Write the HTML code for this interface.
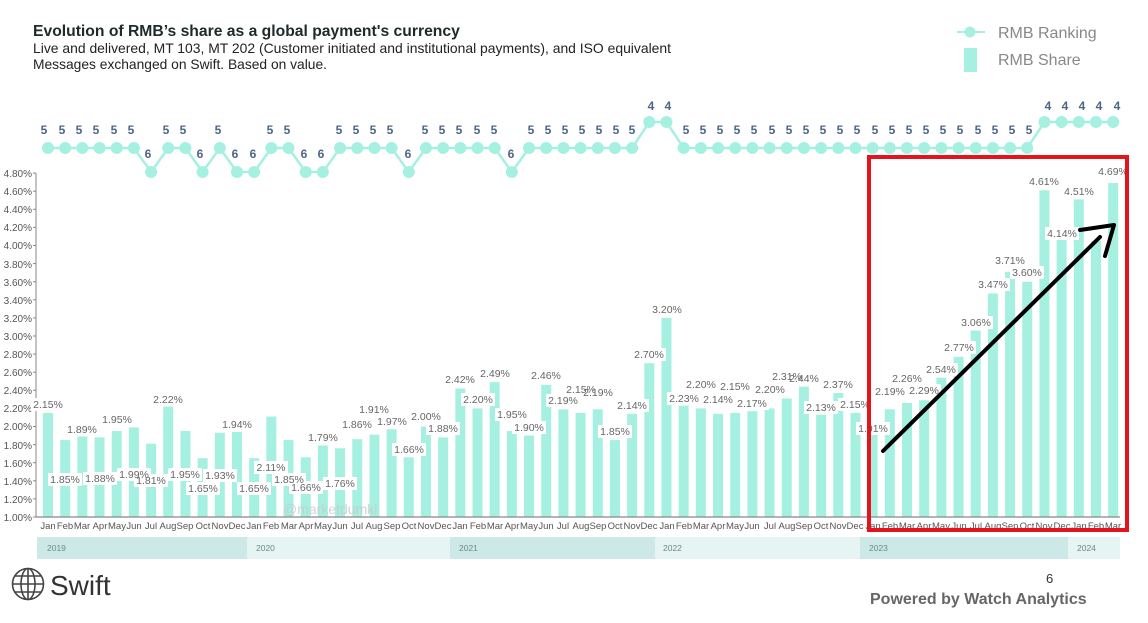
<!DOCTYPE html>
<html><head><meta charset="utf-8"><style>
html,body{margin:0;padding:0;background:#fff;}
svg{display:block;font-family:"Liberation Sans",sans-serif;}
.ml{font-size:9.5px;fill:#555;text-anchor:middle}
.vl{font-size:10.5px;fill:#666;text-anchor:middle}
.rk{font-size:12px;font-weight:bold;fill:#4d6585;text-anchor:middle}
.yl{font-size:10px;fill:#555;text-anchor:end}
</style></head><body>
<svg id="s" width="1148" height="623" viewBox="0 0 1148 623" xmlns="http://www.w3.org/2000/svg">
<text x="33" y="36" font-size="15.7" font-weight="bold" fill="#1d2b2a">Evolution of RMB’s share as a global payment's currency</text>
<text x="33" y="53" font-size="13.6" fill="#222" textLength="638" lengthAdjust="spacingAndGlyphs">Live and delivered, MT 103, MT 202 (Customer initiated and institutional payments), and ISO equivalent</text>
<text x="33" y="69" font-size="13.6" fill="#222" textLength="294" lengthAdjust="spacingAndGlyphs">Messages exchanged on Swift. Based on value.</text>
<line x1="957" y1="32" x2="985" y2="32" stroke="#a6f0e2" stroke-width="2"/><circle cx="970" cy="32" r="5.5" fill="#a6f0e2"/>
<rect x="964" y="48" width="13" height="24" fill="#a6f0e2"/>
<text x="998" y="38" font-size="16" fill="#888">RMB Ranking</text>
<text x="998" y="65" font-size="16" fill="#888">RMB Share</text>
<rect x="37" y="537" width="210" height="22" fill="#cde9e7"/><rect x="247" y="537" width="203" height="22" fill="#e6f4f3"/>
<rect x="450" y="537" width="205" height="22" fill="#cde9e7"/><rect x="655" y="537" width="205" height="22" fill="#e6f4f3"/>
<rect x="860" y="537" width="208" height="22" fill="#cde9e7"/><rect x="1068" y="537" width="52" height="22" fill="#e6f4f3"/>
<g font-size="8.5" fill="#6a8a88"><text x="47" y="551">2019</text><text x="256" y="551">2020</text><text x="459" y="551">2021</text><text x="663" y="551">2022</text><text x="869" y="551">2023</text><text x="1077" y="551">2024</text></g>
<g id="geo"></g>
<text x="283" y="514" font-size="14" fill="#c8c8c8" opacity="0.8">@marketdumki</text>
<g class="yl"><text x="32" y="521">1.00%</text><text x="32" y="503">1.20%</text><text x="32" y="485">1.40%</text><text x="32" y="467">1.60%</text><text x="32" y="449">1.80%</text><text x="32" y="430">2.00%</text><text x="32" y="412">2.20%</text><text x="32" y="394">2.40%</text><text x="32" y="376">2.60%</text><text x="32" y="358">2.80%</text><text x="32" y="340">3.00%</text><text x="32" y="322">3.20%</text><text x="32" y="304">3.40%</text><text x="32" y="286">3.60%</text><text x="32" y="268">3.80%</text><text x="32" y="249">4.00%</text><text x="32" y="231">4.20%</text><text x="32" y="213">4.40%</text><text x="32" y="195">4.60%</text><text x="32" y="177">4.80%</text></g>
<g id="lbl" class="vl"></g>
<g class="vl" id="vt">
<text x="48" y="408">2.15%</text><text x="65" y="483">1.85%</text><text x="82" y="433">1.89%</text><text x="100" y="482">1.88%</text><text x="117" y="423">1.95%</text><text x="134" y="478">1.99%</text><text x="151" y="484">1.81%</text><text x="168" y="403">2.22%</text><text x="185" y="478">1.95%</text><text x="203" y="492">1.65%</text><text x="220" y="479">1.93%</text><text x="237" y="428">1.94%</text>
<text x="254" y="492">1.65%</text><text x="271" y="471">2.11%</text><text x="289" y="483">1.85%</text><text x="306" y="491">1.66%</text><text x="323" y="441">1.79%</text><text x="340" y="487">1.76%</text><text x="357" y="428">1.86%</text><text x="374" y="413">1.91%</text><text x="392" y="425">1.97%</text><text x="409" y="453">1.66%</text><text x="426" y="420">2.00%</text><text x="443" y="432">1.88%</text>
<text x="460" y="383">2.42%</text><text x="478" y="403">2.20%</text><text x="495" y="377">2.49%</text><text x="512" y="418">1.95%</text><text x="529" y="431">1.90%</text><text x="546" y="379">2.46%</text><text x="563" y="404">2.19%</text><text x="581" y="393">2.15%</text><text x="598" y="396">2.19%</text><text x="615" y="435">1.85%</text><text x="632" y="409">2.14%</text><text x="649" y="358">2.70%</text>
<text x="667" y="313">3.20%</text><text x="684" y="402">2.23%</text><text x="701" y="388">2.20%</text><text x="718" y="403">2.14%</text><text x="735" y="390">2.15%</text><text x="752" y="407">2.17%</text><text x="770" y="393">2.20%</text><text x="787" y="380">2.31%</text><text x="804" y="382">2.44%</text><text x="821" y="411">2.13%</text><text x="838" y="388">2.37%</text><text x="855" y="408">2.15%</text>
<text x="873" y="432">1.91%</text><text x="890" y="395">2.19%</text><text x="907" y="382">2.26%</text><text x="924" y="394">2.29%</text><text x="941" y="373">2.54%</text><text x="959" y="351">2.77%</text><text x="976" y="326">3.06%</text><text x="993" y="288">3.47%</text><text x="1010" y="264">3.71%</text><text x="1027" y="276">3.60%</text><text x="1044" y="185">4.61%</text><text x="1062" y="237">4.14%</text>
<text x="1079" y="195">4.51%</text><text x="1113" y="175">4.69%</text>
</g>
<g id="tk"></g>
<g class="ml">
<text x="48" y="529">Jan</text><text x="65" y="529">Feb</text><text x="82" y="529">Mar</text><text x="100" y="529">Apr</text><text x="117" y="529">May</text><text x="134" y="529">Jun</text><text x="151" y="529">Jul</text><text x="168" y="529">Aug</text><text x="185" y="529">Sep</text><text x="203" y="529">Oct</text><text x="220" y="529">Nov</text><text x="237" y="529">Dec</text>
<text x="254" y="529">Jan</text><text x="271" y="529">Feb</text><text x="289" y="529">Mar</text><text x="306" y="529">Apr</text><text x="323" y="529">May</text><text x="340" y="529">Jun</text><text x="357" y="529">Jul</text><text x="374" y="529">Aug</text><text x="392" y="529">Sep</text><text x="409" y="529">Oct</text><text x="426" y="529">Nov</text><text x="443" y="529">Dec</text>
<text x="460" y="529">Jan</text><text x="478" y="529">Feb</text><text x="495" y="529">Mar</text><text x="512" y="529">Apr</text><text x="529" y="529">May</text><text x="546" y="529">Jun</text><text x="563" y="529">Jul</text><text x="581" y="529">Aug</text><text x="598" y="529">Sep</text><text x="615" y="529">Oct</text><text x="632" y="529">Nov</text><text x="649" y="529">Dec</text>
<text x="667" y="529">Jan</text><text x="684" y="529">Feb</text><text x="701" y="529">Mar</text><text x="718" y="529">Apr</text><text x="735" y="529">May</text><text x="752" y="529">Jun</text><text x="770" y="529">Jul</text><text x="787" y="529">Aug</text><text x="804" y="529">Sep</text><text x="821" y="529">Oct</text><text x="838" y="529">Nov</text><text x="855" y="529">Dec</text>
<text x="873" y="529">Jan</text><text x="890" y="529">Feb</text><text x="907" y="529">Mar</text><text x="924" y="529">Apr</text><text x="941" y="529">May</text><text x="959" y="529">Jun</text><text x="976" y="529">Jul</text><text x="993" y="529">Aug</text><text x="1010" y="529">Sep</text><text x="1027" y="529">Oct</text><text x="1044" y="529">Nov</text><text x="1062" y="529">Dec</text>
<text x="1079" y="529">Jan</text><text x="1096" y="529">Feb</text><text x="1113" y="529">Mar</text>
</g>
<g class="rk" id="rk">
<text x="44" y="134">5</text><text x="62" y="134">5</text><text x="79" y="134">5</text><text x="96" y="134">5</text><text x="114" y="134">5</text><text x="131" y="134">5</text><text x="148" y="158">6</text><text x="166" y="134">5</text><text x="183" y="134">5</text><text x="200" y="158">6</text><text x="218" y="134">5</text><text x="235" y="158">6</text>
<text x="253" y="158">6</text><text x="270" y="134">5</text><text x="287" y="134">5</text><text x="304" y="158">6</text><text x="321" y="158">6</text><text x="339" y="134">5</text><text x="356" y="134">5</text><text x="373" y="134">5</text><text x="390" y="134">5</text><text x="408" y="158">6</text><text x="425" y="134">5</text><text x="442" y="134">5</text>
<text x="459" y="134">5</text><text x="477" y="134">5</text><text x="494" y="134">5</text><text x="511" y="158">6</text><text x="531" y="134">5</text><text x="548" y="134">5</text><text x="565" y="134">5</text><text x="582" y="134">5</text><text x="599" y="134">5</text><text x="616" y="134">5</text><text x="632" y="134">5</text><text x="651" y="110">4</text>
<text x="668" y="110">4</text><text x="686" y="134">5</text><text x="703" y="134">5</text><text x="720" y="134">5</text><text x="737" y="134">5</text><text x="754" y="134">5</text><text x="772" y="134">5</text><text x="789" y="134">5</text><text x="806" y="134">5</text><text x="823" y="134">5</text><text x="840" y="134">5</text><text x="857" y="134">5</text>
<text x="875" y="134">5</text><text x="892" y="134">5</text><text x="909" y="134">5</text><text x="926" y="134">5</text><text x="943" y="134">5</text><text x="960" y="134">5</text><text x="978" y="134">5</text><text x="995" y="134">5</text><text x="1012" y="134">5</text><text x="1029" y="134">5</text><text x="1048" y="110">4</text><text x="1065" y="110">4</text>
<text x="1082" y="110">4</text><text x="1099" y="110">4</text><text x="1117" y="110">4</text>
</g>
<rect x="869" y="157" width="258" height="373" fill="none" stroke="#e3141c" stroke-width="4"/>
<line x1="883" y1="451" x2="1100" y2="237" stroke="#000" stroke-width="4" stroke-linecap="round"/>
<polyline points="1080,230 1114,225 1105,256" fill="none" stroke="#000" stroke-width="4" stroke-linecap="round" stroke-linejoin="round"/>
<g fill="none" stroke="#444" stroke-width="1.6"><circle cx="28" cy="584" r="15.5"/><ellipse cx="28" cy="584" rx="7" ry="15.5"/><line x1="28" y1="568.5" x2="28" y2="599.5"/><line x1="12.5" y1="584" x2="43.5" y2="584"/><line x1="15" y1="576" x2="41" y2="576"/><line x1="15" y1="592" x2="41" y2="592"/></g>
<text x="50" y="595" font-size="28" fill="#333">Swift</text>
<text x="1046" y="583" font-size="13" fill="#333">6</text>
<text x="870" y="604" font-size="16" font-weight="bold" fill="#666">Powered by Watch Analytics</text>
</svg>
<script>
var V=[2.15,1.85,1.89,1.88,1.95,1.99,1.81,2.22,1.95,1.65,1.93,1.94,1.65,2.11,1.85,1.66,1.79,1.76,1.86,1.91,1.97,1.66,2.00,1.88,2.42,2.20,2.49,1.95,1.90,2.46,2.19,2.15,2.19,1.85,2.14,2.70,3.20,2.23,2.20,2.14,2.15,2.17,2.20,2.31,2.44,2.13,2.37,2.15,1.91,2.19,2.26,2.29,2.54,2.77,3.06,3.47,3.71,3.60,4.61,4.14,4.51,4.05,4.69];
var R=[5,5,5,5,5,5,6,5,5,6,5,6,6,5,5,6,6,5,5,5,5,6,5,5,5,5,5,6,5,5,5,5,5,5,5,4,4,5,5,5,5,5,5,5,5,5,5,5,5,5,5,5,5,5,5,5,5,5,4,4,4,4,4];
var NS="http://www.w3.org/2000/svg",g=document.getElementById('geo'),lb=document.getElementById('lbl'),tk=document.getElementById('tk');
function el(p,n,a){var e=document.createElementNS(NS,n);for(var k in a)e.setAttribute(k,a[k]);p.appendChild(e);return e;}
function X(i){return 48+i*17.18;}
function Y(v){return 517-(v-1)*90.5;}
for(var i=0;i<V.length;i++){var t=Y(V[i]);el(g,'rect',{x:X(i)-5,y:t,width:10,height:517-t,fill:'#a6f0e2'});}
el(g,'line',{x1:36,y1:517,x2:1120,y2:517,stroke:'#888','stroke-width':1.2});
el(g,'line',{x1:36,y1:173,x2:36,y2:517,stroke:'#888','stroke-width':1});
for(var k=0;k<=19;k++){var y=517-k*18.1;el(g,'line',{x1:33,y1:y,x2:36,y2:y,stroke:'#888'});}
var pts=[];for(var i=0;i<R.length;i++){pts.push(X(i)+','+(R[i]==5?148:R[i]==6?172:122));}
el(g,'polyline',{points:pts.join(' '),fill:'none',stroke:'#a6f0e2','stroke-width':2.5});
for(var i=0;i<R.length;i++){el(g,'circle',{cx:X(i),cy:(R[i]==5?148:R[i]==6?172:122),r:6,fill:'#a6f0e2'});}
var ts=document.getElementById('vt').children;
for(var j=0;j<ts.length;j++){var tx=+ts[j].getAttribute('x'),ty=+ts[j].getAttribute('y');
 var i=Math.round((tx-48)/17.18);el(lb,'rect',{x:tx-17,y:ty-10,width:34,height:13,fill:'#fff'});
 var top=Y(V[i]);if(ty+3<top+4){el(tk,'line',{x1:tx,y1:ty+4,x2:tx,y2:top+9,stroke:'#2a3a3a','stroke-width':1.5});}}
</script>
</body></html>
